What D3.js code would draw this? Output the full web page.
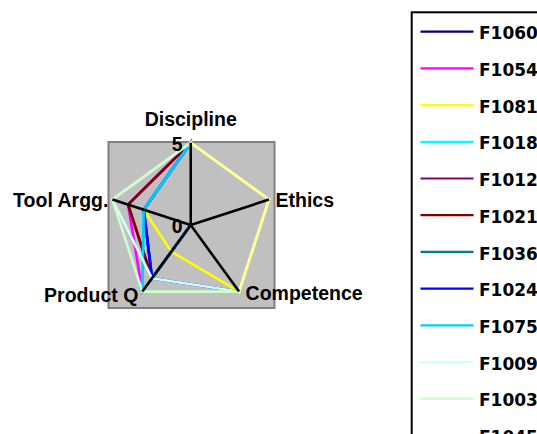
<!DOCTYPE html>
<html>
<head>
<meta charset="utf-8">
<script src="https://cdn.jsdelivr.net/npm/d3@7"></script>
<style>
  body { margin: 0; background: #fff; }
  svg { display: block; }
  .axis-label { font-family: "Liberation Sans", Arial, sans-serif; font-weight: bold; font-size: 19.5px; fill: #000; }
  .legend-label { font-family: "DejaVu Sans", sans-serif; font-weight: bold; font-size: 17px; fill: #000; }
</style>
</head>
<body>
<div id="chart"></div>
<script>
// categories (clockwise from top)
const axes = ["Discipline", "Ethics", "Competence", "Product Q", "Tool Argg."];
const scaleTicks = [0, 5];

// series, in legend order
const seriesNames = ["F1060", "F1054", "F1081", "F1018", "F1012", "F1021",
                     "F1036", "F1024", "F1075", "F1009", "F1003", "F1045"];

// values: Discipline, Ethics, Competence, Product Q, Tool Argg.
const F1060 = [5, 0, 0, 4, 3];
const F1054 = [5, 0, 0, 5, 4];
const F1081 = [5, 5, 5, 2, 3];
const F1018 = [5, 0, 0, 5, 3];
const F1012 = [5, 0, 0, 4, 4];
const F1021 = [5, 0, 0, 4, 4];
const F1036 = [5, 0, 0, 4, 3];
const F1024 = [5, 0, 5, 4, 3];
const F1075 = [5, 0, 0, 5, 3];
const F1009 = [5, 0, 5, 4, 5];
const F1003 = [5, 5, 5, 5, 5];
const F1045 = [5, 5, 5, 0, 0];

const seriesValues = [F1060, F1054, F1081, F1018, F1012, F1021,
                      F1036, F1024, F1075, F1009, F1003, F1045];

const colors = ["#000080", "#ff00ff", "#ffff00", "#00ffff", "#800080", "#800000",
                "#008080", "#0000ff", "#00ccff", "#ccffff", "#ccffcc", "#ffff99"];

const W = 537, H = 434;
const cx = 190.7, cy = 225;
const radius = 82.3;

const svg = d3.select("#chart")
  .append("svg")
  .attr("width", W)
  .attr("height", H);

// plot area
svg.append("rect")
  .attr("x", 108.5)
  .attr("y", 142)
  .attr("width", 166)
  .attr("height", 166)
  .attr("fill", "#c0c0c0")
  .attr("stroke", "#808080")
  .attr("stroke-width", 2);

const r = d3.scaleLinear().domain([0, 5]).range([0, radius]);
const angle = d3.scalePoint()
  .domain(axes)
  .range([0, 2 * Math.PI * (axes.length - 1) / axes.length]);

const pt = (axis, v) => {
  const a = angle(axis) - Math.PI / 2;
  return [cx + r(v) * Math.cos(a), cy + r(v) * Math.sin(a)];
};

const g = svg.append("g");

// series lines
const line = d3.line().curve(d3.curveLinearClosed);
g.selectAll("path.series")
  .data(seriesValues)
  .join("path")
  .attr("class", "series")
  .attr("d", vals => line(vals.map((v, i) => pt(axes[i], v))))
  .attr("fill", "none")
  .attr("stroke", (d, i) => colors[i])
  .attr("stroke-width", 2.6)
  .attr("stroke-linejoin", "miter");

// spokes
g.selectAll("line.spoke")
  .data(axes)
  .join("line")
  .attr("class", "spoke")
  .attr("x1", cx)
  .attr("y1", cy)
  .attr("x2", d => pt(d, 5)[0])
  .attr("y2", d => pt(d, 5)[1])
  .attr("stroke", "#000")
  .attr("stroke-width", 2.6);

// scale labels along the vertical spoke
g.selectAll("text.tick")
  .data(scaleTicks)
  .join("text")
  .attr("class", "axis-label")
  .attr("x", cx - 8)
  .attr("y", d => cy - r(d) + 1)
  .attr("text-anchor", "end")
  .attr("dominant-baseline", "central")
  .text(d => d);

// category labels
const labelPos = {
  "Discipline": { dx: 0, dy: -24, anchor: "middle" },
  "Ethics": { dx: 6.5, dy: 0, anchor: "start" },
  "Competence": { dx: 6.5, dy: 1, anchor: "start" },
  "Product Q": { dx: -4, dy: 3, anchor: "end" },
  "Tool Argg.": { dx: -4, dy: 0, anchor: "end" }
};

g.selectAll("text.cat")
  .data(axes)
  .join("text")
  .attr("class", "axis-label")
  .attr("x", d => pt(d, 5)[0] + labelPos[d].dx)
  .attr("y", d => pt(d, 5)[1] + labelPos[d].dy)
  .attr("text-anchor", d => labelPos[d].anchor)
  .attr("dominant-baseline", "central")
  .text(d => d);

// legend
const legend = svg.append("g");
legend.append("rect")
  .attr("x", 411.7)
  .attr("y", 12.3)
  .attr("width", 200)
  .attr("height", 500)
  .attr("fill", "#fff")
  .attr("stroke", "#000")
  .attr("stroke-width", 2);

const ly = d3.scaleLinear().domain([0, 1]).range([31.7, 68.4]);

const items = legend.selectAll("g.item")
  .data(seriesNames)
  .join("g")
  .attr("class", "item")
  .attr("transform", (d, i) => `translate(0,${ly(i)})`);

items.append("line")
  .attr("x1", 420.5)
  .attr("x2", 473.5)
  .attr("stroke", (d, i) => colors[i])
  .attr("stroke-width", 2.2);

items.append("text")
  .attr("class", "legend-label")
  .attr("x", 479)
  .attr("y", 7.6)
  .text(d => d);
</script>
</body>
</html>
